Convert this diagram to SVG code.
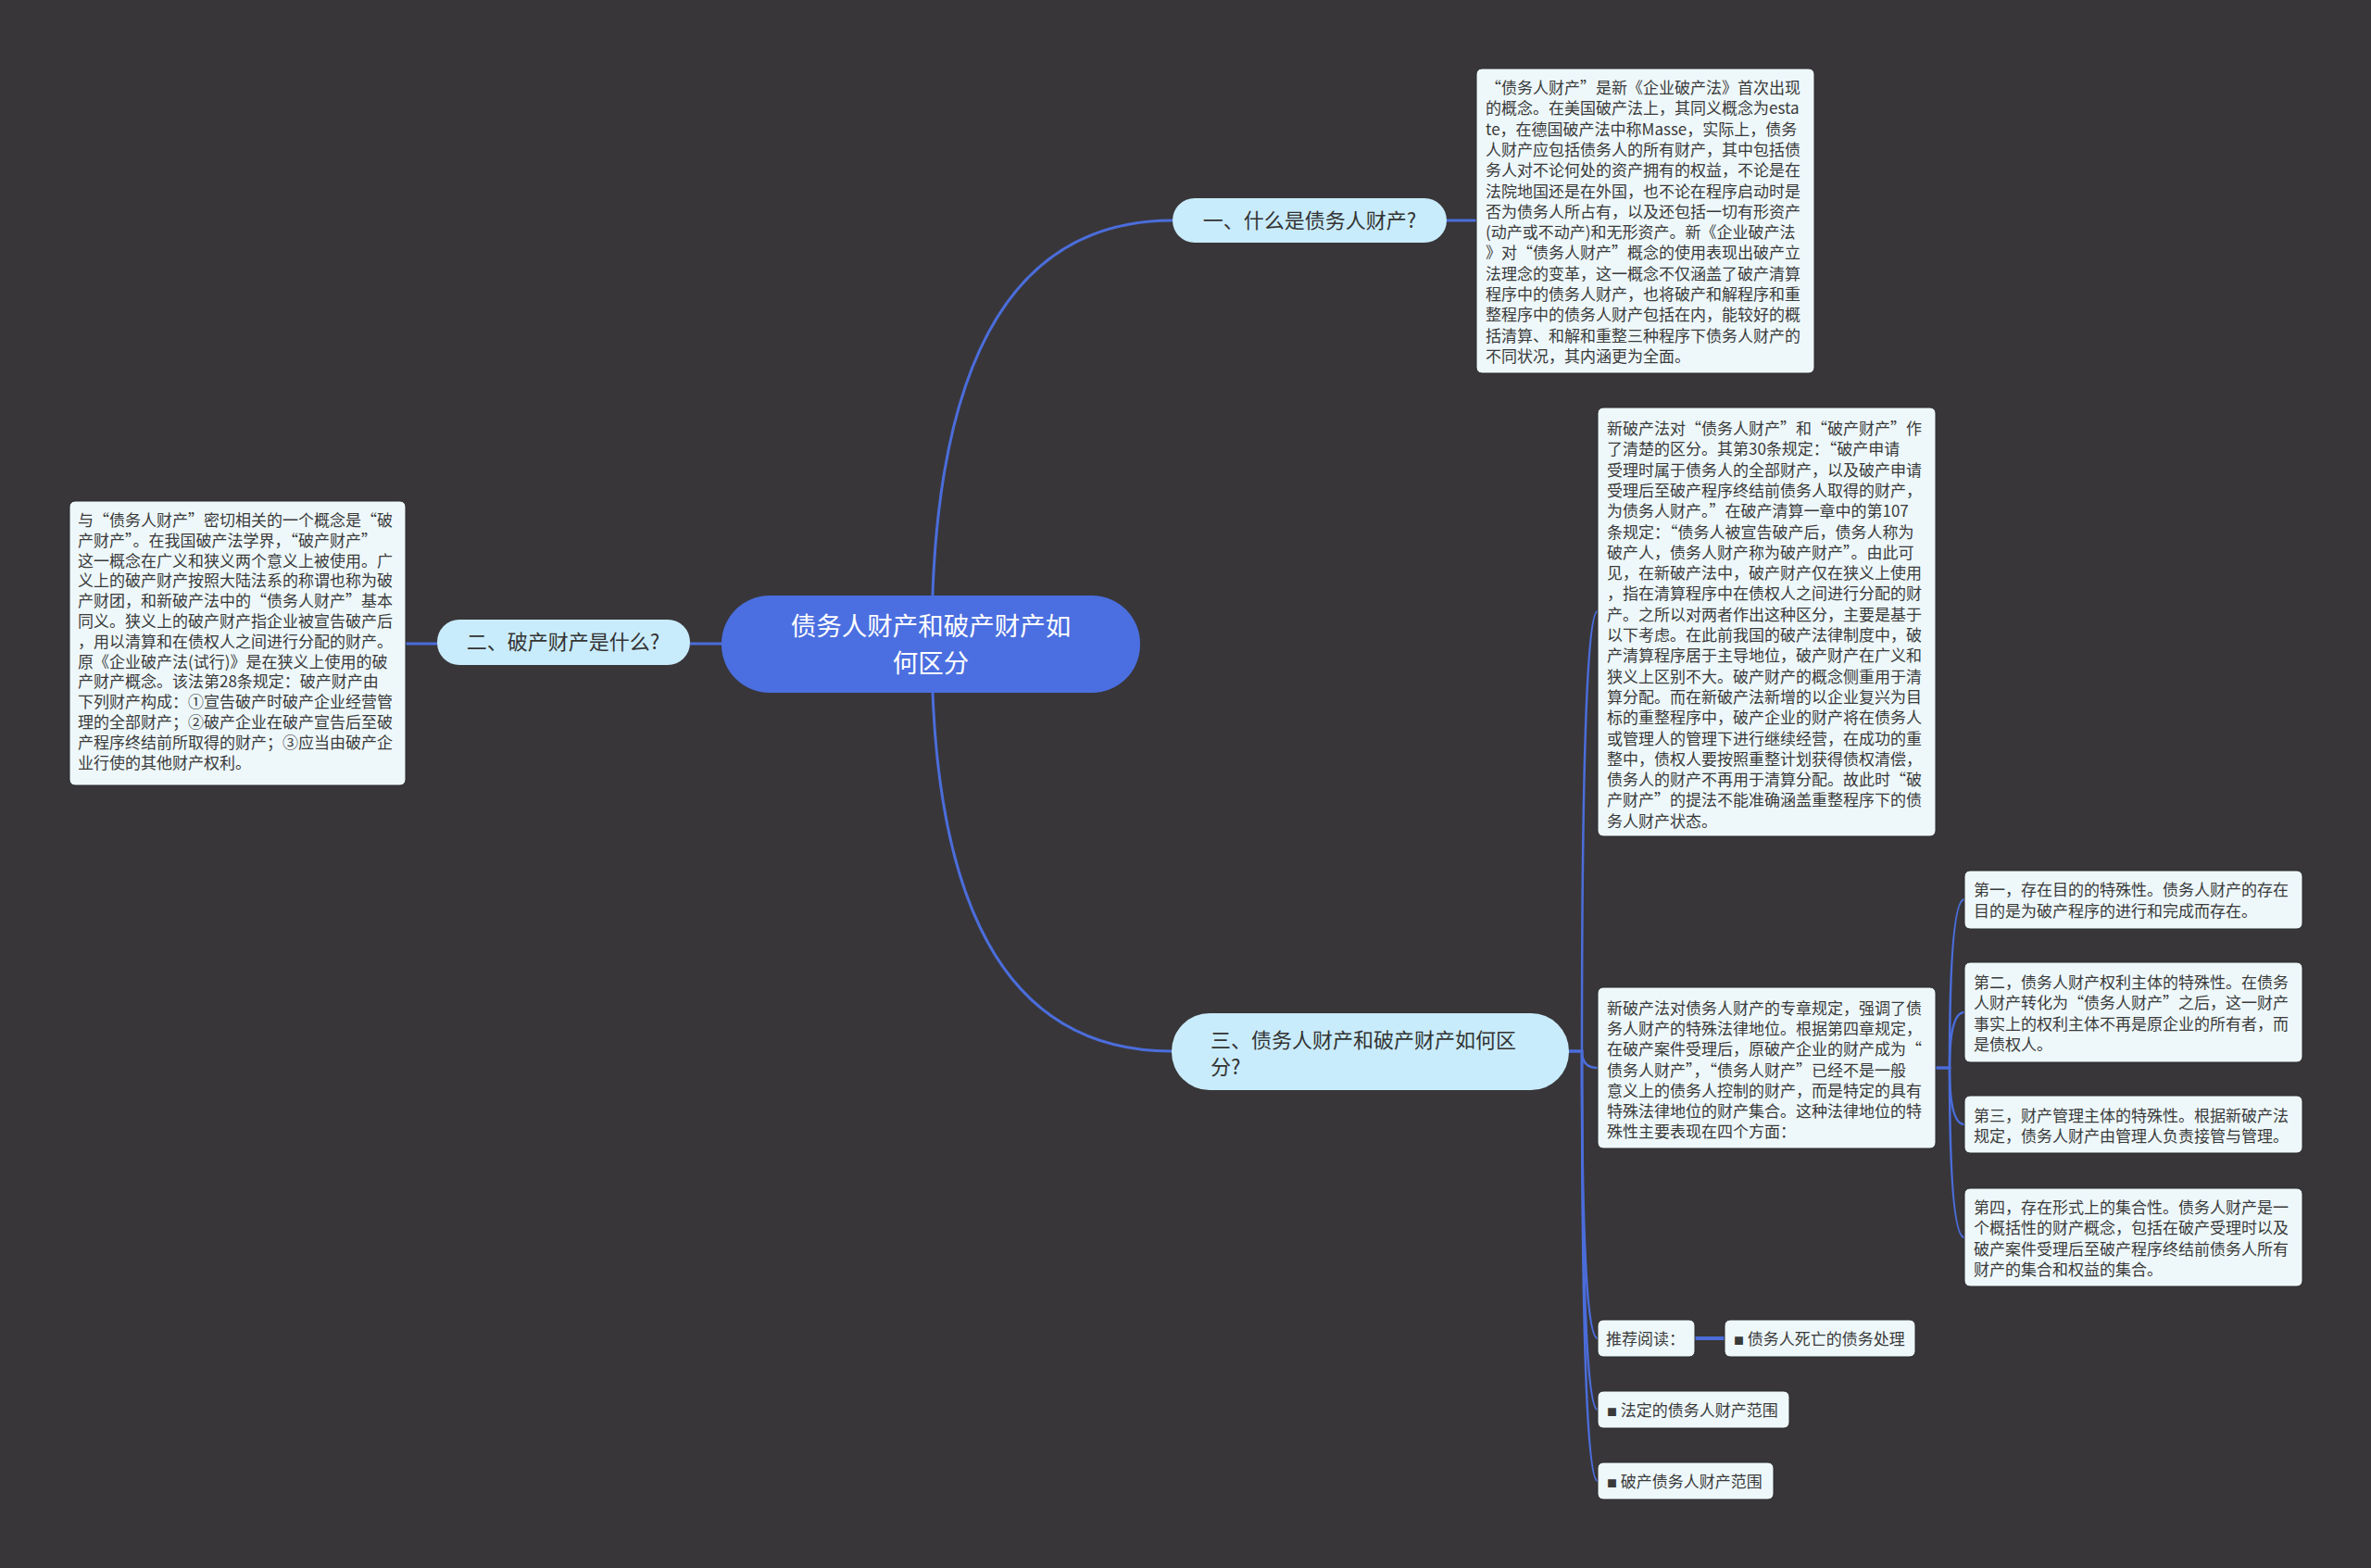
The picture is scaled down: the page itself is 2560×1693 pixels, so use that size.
<svg xmlns="http://www.w3.org/2000/svg" width="2560" height="1693" viewBox="0 0 2560 1693">
<style>
text{font-family:"Noto Sans CJK SC","Noto Sans",sans-serif;}
.bg{fill:#383639;}
.line{fill:none;stroke:#4b6ddb;stroke-width:3;}
.sub{fill:none;stroke:#4b6ddb;stroke-width:2.5;}
.root rect{fill:#4b6fe0;}
.root text{fill:#ffffff;font-size:27.5px;text-anchor:middle;}
.l1 rect{fill:#c9ecfc;}
.l1 text{fill:#333333;font-size:22px;}
.box rect{fill:#eef8fb;stroke:#2b2b2d;stroke-width:1;}
.box text{fill:#3a3a3a;font-size:17px;}
.sq{font-size:11px;}
</style>
<rect class="bg" x="0" y="0" width="2560" height="1693"/>
<g id="connectors">
<path class="line" d="M1006,695 Q1006,238 1266,238"/>
<path class="line" d="M1006,695 Q1006,1135 1265,1135"/>
<path class="line" d="M779,695 L745,695"/>
<path class="line" d="M472,695 L438,695"/>
<path class="line" d="M1562,238 L1594,238"/>
<path class="sub" d="M1694,1135 L1708,1135 Q1708,660 1725,660"/>
<path class="sub" d="M1694,1135 L1708,1135 Q1708,1153 1725,1153"/>
<path class="sub" d="M1694,1135 L1708,1135 Q1708,1445 1725,1445"/>
<path class="sub" d="M1694,1135 L1708,1135 Q1708,1522 1725,1522"/>
<path class="sub" d="M1694,1135 L1708,1135 Q1708,1599 1725,1599"/>
<path class="sub" d="M2090,1153 L2105,1153 Q2105,971 2121,971"/>
<path class="sub" d="M2090,1153 L2105,1153 Q2105,1093 2121,1093"/>
<path class="sub" d="M2090,1153 L2105,1153 Q2105,1214 2121,1214"/>
<path class="sub" d="M2090,1153 L2105,1153 Q2105,1336 2121,1336"/>
<path class="line" style="stroke-width:4" d="M1830,1445 L1862,1445"/>
</g>
<g id="root" class="root">
<rect x="779" y="643" width="452" height="105" rx="52"/>
<text x="1005" y="686"><tspan x="1005">债务人财产和破产财产如</tspan><tspan x="1005" dy="40">何区分</tspan></text>
</g>
<g id="n1" class="l1">
<rect x="1266" y="214" width="296" height="48" rx="24"/>
<text x="1414" y="246" text-anchor="middle">一、什么是债务人财产?</text>
</g>
<g id="n2" class="l1">
<rect x="472" y="669" width="273" height="49" rx="24"/>
<text x="608" y="701" text-anchor="middle">二、破产财产是什么?</text>
</g>
<g id="n3" class="l1">
<rect x="1265" y="1094" width="429" height="83" rx="41"/>
<text x="1307" y="1131"><tspan x="1307">三、债务人财产和破产财产如何区</tspan><tspan x="1307" dy="29">分?</tspan></text>
</g>
<g id="b1" class="box">
<rect x="1594" y="74" width="365" height="329" rx="6"/>
<text x="1604" y="101">
<tspan x="1604">“债务人财产”是新《企业破产法》首次出现</tspan>
<tspan x="1604" dy="22.3">的概念。在美国破产法上，其同义概念为esta</tspan>
<tspan x="1604" dy="22.3">te，在德国破产法中称Masse，实际上，债务</tspan>
<tspan x="1604" dy="22.3">人财产应包括债务人的所有财产，其中包括债</tspan>
<tspan x="1604" dy="22.3">务人对不论何处的资产拥有的权益，不论是在</tspan>
<tspan x="1604" dy="22.3">法院地国还是在外国，也不论在程序启动时是</tspan>
<tspan x="1604" dy="22.3">否为债务人所占有，以及还包括一切有形资产</tspan>
<tspan x="1604" dy="22.3">(动产或不动产)和无形资产。新《企业破产法</tspan>
<tspan x="1604" dy="22.3">》对“债务人财产”概念的使用表现出破产立</tspan>
<tspan x="1604" dy="22.3">法理念的变革，这一概念不仅涵盖了破产清算</tspan>
<tspan x="1604" dy="22.3">程序中的债务人财产，也将破产和解程序和重</tspan>
<tspan x="1604" dy="22.3">整程序中的债务人财产包括在内，能较好的概</tspan>
<tspan x="1604" dy="22.3">括清算、和解和重整三种程序下债务人财产的</tspan>
<tspan x="1604" dy="22.3">不同状况，其内涵更为全面。</tspan>
</text>
</g>
<g id="b2" class="box">
<rect x="1725" y="440" width="365" height="463" rx="6"/>
<text x="1735" y="469">
<tspan x="1735">新破产法对“债务人财产”和“破产财产”作</tspan>
<tspan x="1735" dy="22.3">了清楚的区分。其第30条规定：“破产申请</tspan>
<tspan x="1735" dy="22.3">受理时属于债务人的全部财产，以及破产申请</tspan>
<tspan x="1735" dy="22.3">受理后至破产程序终结前债务人取得的财产，</tspan>
<tspan x="1735" dy="22.3">为债务人财产。”在破产清算一章中的第107</tspan>
<tspan x="1735" dy="22.3">条规定：“债务人被宣告破产后，债务人称为</tspan>
<tspan x="1735" dy="22.3">破产人，债务人财产称为破产财产”。由此可</tspan>
<tspan x="1735" dy="22.3">见，在新破产法中，破产财产仅在狭义上使用</tspan>
<tspan x="1735" dy="22.3">，指在清算程序中在债权人之间进行分配的财</tspan>
<tspan x="1735" dy="22.3">产。之所以对两者作出这种区分，主要是基于</tspan>
<tspan x="1735" dy="22.3">以下考虑。在此前我国的破产法律制度中，破</tspan>
<tspan x="1735" dy="22.3">产清算程序居于主导地位，破产财产在广义和</tspan>
<tspan x="1735" dy="22.3">狭义上区别不大。破产财产的概念侧重用于清</tspan>
<tspan x="1735" dy="22.3">算分配。而在新破产法新增的以企业复兴为目</tspan>
<tspan x="1735" dy="22.3">标的重整程序中，破产企业的财产将在债务人</tspan>
<tspan x="1735" dy="22.3">或管理人的管理下进行继续经营，在成功的重</tspan>
<tspan x="1735" dy="22.3">整中，债权人要按照重整计划获得债权清偿，</tspan>
<tspan x="1735" dy="22.3">债务人的财产不再用于清算分配。故此时“破</tspan>
<tspan x="1735" dy="22.3">产财产”的提法不能准确涵盖重整程序下的债</tspan>
<tspan x="1735" dy="22.3">务人财产状态。</tspan>
</text>
</g>
<g id="b3" class="box">
<rect x="75" y="541" width="363" height="307" rx="6"/>
<text x="84" y="568">
<tspan x="84">与“债务人财产”密切相关的一个概念是“破</tspan>
<tspan x="84" dy="21.8">产财产”。在我国破产法学界，“破产财产”</tspan>
<tspan x="84" dy="21.8">这一概念在广义和狭义两个意义上被使用。广</tspan>
<tspan x="84" dy="21.8">义上的破产财产按照大陆法系的称谓也称为破</tspan>
<tspan x="84" dy="21.8">产财团，和新破产法中的“债务人财产”基本</tspan>
<tspan x="84" dy="21.8">同义。狭义上的破产财产指企业被宣告破产后</tspan>
<tspan x="84" dy="21.8">，用以清算和在债权人之间进行分配的财产。</tspan>
<tspan x="84" dy="21.8">原《企业破产法(试行)》是在狭义上使用的破</tspan>
<tspan x="84" dy="21.8">产财产概念。该法第28条规定：破产财产由</tspan>
<tspan x="84" dy="21.8">下列财产构成：①宣告破产时破产企业经营管</tspan>
<tspan x="84" dy="21.8">理的全部财产；②破产企业在破产宣告后至破</tspan>
<tspan x="84" dy="21.8">产程序终结前所取得的财产；③应当由破产企</tspan>
<tspan x="84" dy="21.8">业行使的其他财产权利。</tspan>
</text>
</g>
<g id="b4" class="box">
<rect x="1725" y="1066" width="365" height="174" rx="6"/>
<text x="1735" y="1095">
<tspan x="1735">新破产法对债务人财产的专章规定，强调了债</tspan>
<tspan x="1735" dy="22.2">务人财产的特殊法律地位。根据第四章规定，</tspan>
<tspan x="1735" dy="22.2">在破产案件受理后，原破产企业的财产成为“</tspan>
<tspan x="1735" dy="22.2">债务人财产”，“债务人财产”已经不是一般</tspan>
<tspan x="1735" dy="22.2">意义上的债务人控制的财产，而是特定的具有</tspan>
<tspan x="1735" dy="22.2">特殊法律地位的财产集合。这种法律地位的特</tspan>
<tspan x="1735" dy="22.2">殊性主要表现在四个方面：</tspan>
</text>
</g>
<g id="b5" class="box">
<rect x="2121" y="940" width="365" height="63" rx="6"/>
<text x="2131" y="967">
<tspan x="2131">第一，存在目的的特殊性。债务人财产的存在</tspan>
<tspan x="2131" dy="22.5">目的是为破产程序的进行和完成而存在。</tspan>
</text>
</g>
<g id="b6" class="box">
<rect x="2121" y="1039" width="365" height="108" rx="6"/>
<text x="2131" y="1067">
<tspan x="2131">第二，债务人财产权利主体的特殊性。在债务</tspan>
<tspan x="2131" dy="22.3">人财产转化为“债务人财产”之后，这一财产</tspan>
<tspan x="2131" dy="22.3">事实上的权利主体不再是原企业的所有者，而</tspan>
<tspan x="2131" dy="22.3">是债权人。</tspan>
</text>
</g>
<g id="b7" class="box">
<rect x="2121" y="1183" width="365" height="62" rx="6"/>
<text x="2131" y="1211">
<tspan x="2131">第三，财产管理主体的特殊性。根据新破产法</tspan>
<tspan x="2131" dy="22.3">规定，债务人财产由管理人负责接管与管理。</tspan>
</text>
</g>
<g id="b8" class="box">
<rect x="2121" y="1283" width="365" height="106" rx="6"/>
<text x="2131" y="1310">
<tspan x="2131">第四，存在形式上的集合性。债务人财产是一</tspan>
<tspan x="2131" dy="22.3">个概括性的财产概念，包括在破产受理时以及</tspan>
<tspan x="2131" dy="22.3">破产案件受理后至破产程序终结前债务人所有</tspan>
<tspan x="2131" dy="22.3">财产的集合和权益的集合。</tspan>
</text>
</g>
<g id="b9" class="box">
<rect x="1725" y="1425" width="105" height="40" rx="6"/>
<text x="1734" y="1452">推荐阅读：</text>
</g>
<g id="b10" class="box">
<rect x="1862" y="1425" width="206" height="40" rx="6"/>
<text x="1872" y="1452"><tspan class="sq">■</tspan> 债务人死亡的债务处理</text>
</g>
<g id="b11" class="box">
<rect x="1725" y="1502" width="207" height="40" rx="6"/>
<text x="1735" y="1529"><tspan class="sq">■</tspan> 法定的债务人财产范围</text>
</g>
<g id="b12" class="box">
<rect x="1725" y="1579" width="190" height="40" rx="6"/>
<text x="1735" y="1606"><tspan class="sq">■</tspan> 破产债务人财产范围</text>
</g>
</svg>
